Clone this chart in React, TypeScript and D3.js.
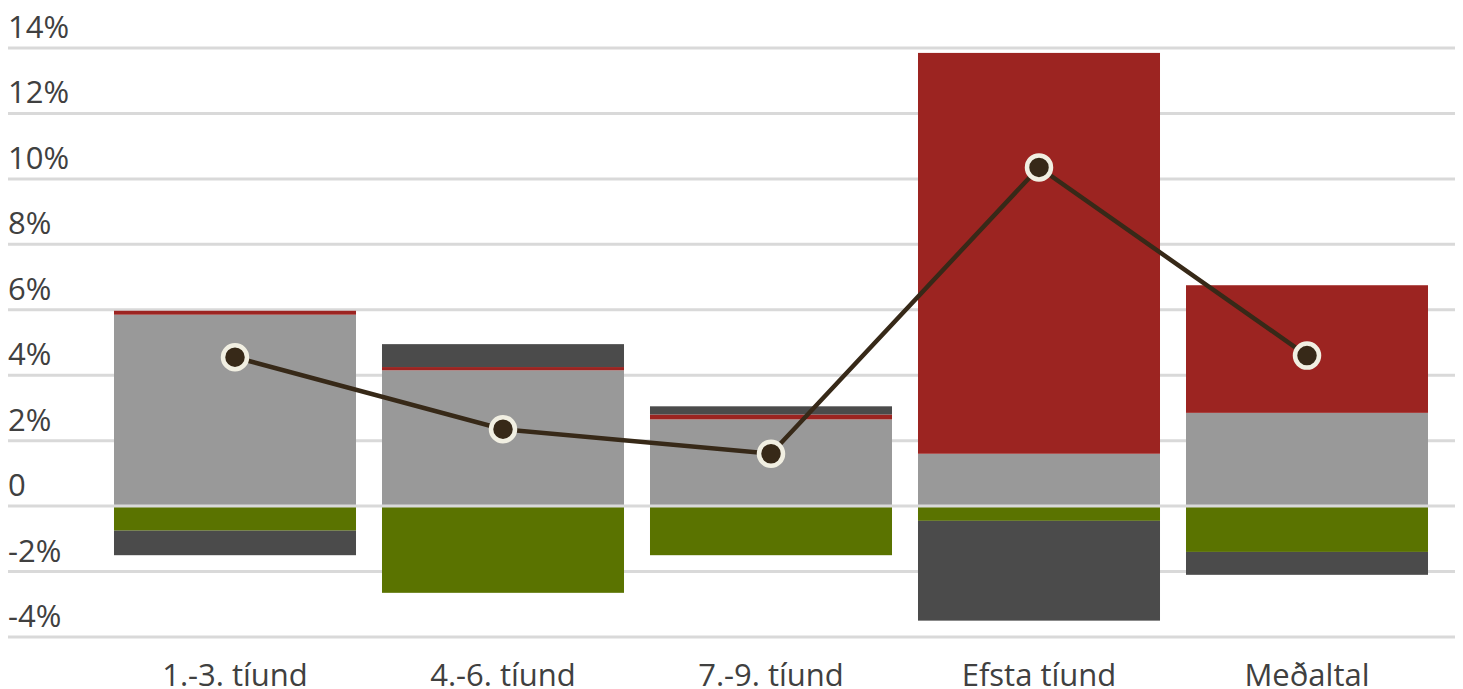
import { useEffect, useRef } from "react";
import * as d3 from "d3";

const categories = ["1.-3. tíund", "4.-6. tíund", "7.-9. tíund", "Efsta tíund", "Meðaltal"];
const seriesKeys = ["gray", "red", "green", "dark"];
const grayValues = [5.85, 4.15, 2.65, 1.6, 2.85];
const redValues = [0.12, 0.1, 0.15, 12.25, 3.9];
const greenValues = [-0.75, -2.65, -1.5, -0.45, -1.4];
const darkValues = [-0.75, 0.7, 0.25, -3.05, -0.7];
const lineValues = [4.55, 2.35, 1.6, 10.35, 4.6];
const yTicks = [-4, -2, 0, 2, 4, 6, 8, 10, 12, 14];

const COLORS: Record<string, string> = {
  gray: "#999999",
  red: "#9c2421",
  green: "#5a7300",
  dark: "#4b4b4b",
};

const W = 1463;
const H = 689;
const FONT = "'Open Sans', 'Noto Sans', sans-serif";

export default function App() {
  const svgRef = useRef<SVGSVGElement>(null);

  useEffect(() => {
    const svgEl = svgRef.current;
    if (!svgEl) return;
    const root = d3.select(svgEl);
    root.selectAll("*").remove();

    const rows = categories.map((c, i) => ({
      cat: c,
      gray: grayValues[i],
      red: redValues[i],
      green: greenValues[i],
      dark: darkValues[i],
    }));

    const x = d3
      .scaleBand<string>()
      .domain(categories)
      .range([101, 1441])
      .paddingInner(0.097)
      .paddingOuter(0.0485);
    const y = d3.scaleLinear().domain([-4, 14]).range([637, 48]);

    const stacked = d3
      .stack<any>()
      .keys(seriesKeys)
      .offset(d3.stackOffsetDiverging)(rows);

    // grid
    root
      .append("g")
      .selectAll("line")
      .data(yTicks.filter((t) => t !== 0))
      .join("line")
      .attr("x1", 8)
      .attr("x2", 1455)
      .attr("y1", (d) => y(d))
      .attr("y2", (d) => y(d))
      .attr("stroke", "#d9d9d9")
      .attr("stroke-width", 3);

    // bars
    const bars = root.append("g");
    stacked.forEach((s) => {
      bars
        .append("g")
        .attr("fill", COLORS[s.key])
        .selectAll("rect")
        .data(s)
        .join("rect")
        .attr("x", (d: any) => x(d.data.cat) ?? 0)
        .attr("width", x.bandwidth())
        .attr("y", (d) => y(Math.max(d[0], d[1])))
        .attr("height", (d) => Math.abs(y(d[0]) - y(d[1])));
    });

    // zero line on top
    root
      .append("line")
      .attr("x1", 8)
      .attr("x2", 1455)
      .attr("y1", y(0))
      .attr("y2", y(0))
      .attr("stroke", "#d9d9d9")
      .attr("stroke-width", 3);

    // y labels
    root
      .append("g")
      .selectAll("text")
      .data(yTicks)
      .join("text")
      .attr("x", 8)
      .attr("y", (d) => y(d) - 10)
      .attr("fill", "#404040")
      .attr("font-size", 31)
      .attr("font-family", FONT)
      .text((d) => (d === 0 ? "0" : `${d}%`));

    // x labels
    root
      .append("g")
      .selectAll("text")
      .data(categories)
      .join("text")
      .attr("x", (d) => (x(d) ?? 0) + x.bandwidth() / 2)
      .attr("y", 686)
      .attr("text-anchor", "middle")
      .attr("fill", "#404040")
      .attr("font-size", 31)
      .attr("font-family", FONT)
      .text((d) => d);

    // line
    const line = d3
      .line<number>()
      .x((_, i) => (x(categories[i]) ?? 0) + x.bandwidth() / 2)
      .y((d) => y(d));
    root
      .append("path")
      .attr("d", line(lineValues))
      .attr("fill", "none")
      .attr("stroke", "#372918")
      .attr("stroke-width", 4.5);

    root
      .append("g")
      .selectAll("circle")
      .data(lineValues)
      .join("circle")
      .attr("cx", (_, i) => (x(categories[i]) ?? 0) + x.bandwidth() / 2)
      .attr("cy", (d) => y(d))
      .attr("r", 12)
      .attr("fill", "#372918")
      .attr("stroke", "#f1efe2")
      .attr("stroke-width", 4.5);
  }, []);

  return (
    <svg
      ref={svgRef}
      width={W}
      height={H}
      style={{ position: "absolute", left: 0, top: 0, background: "#fff" }}
    />
  );
}
